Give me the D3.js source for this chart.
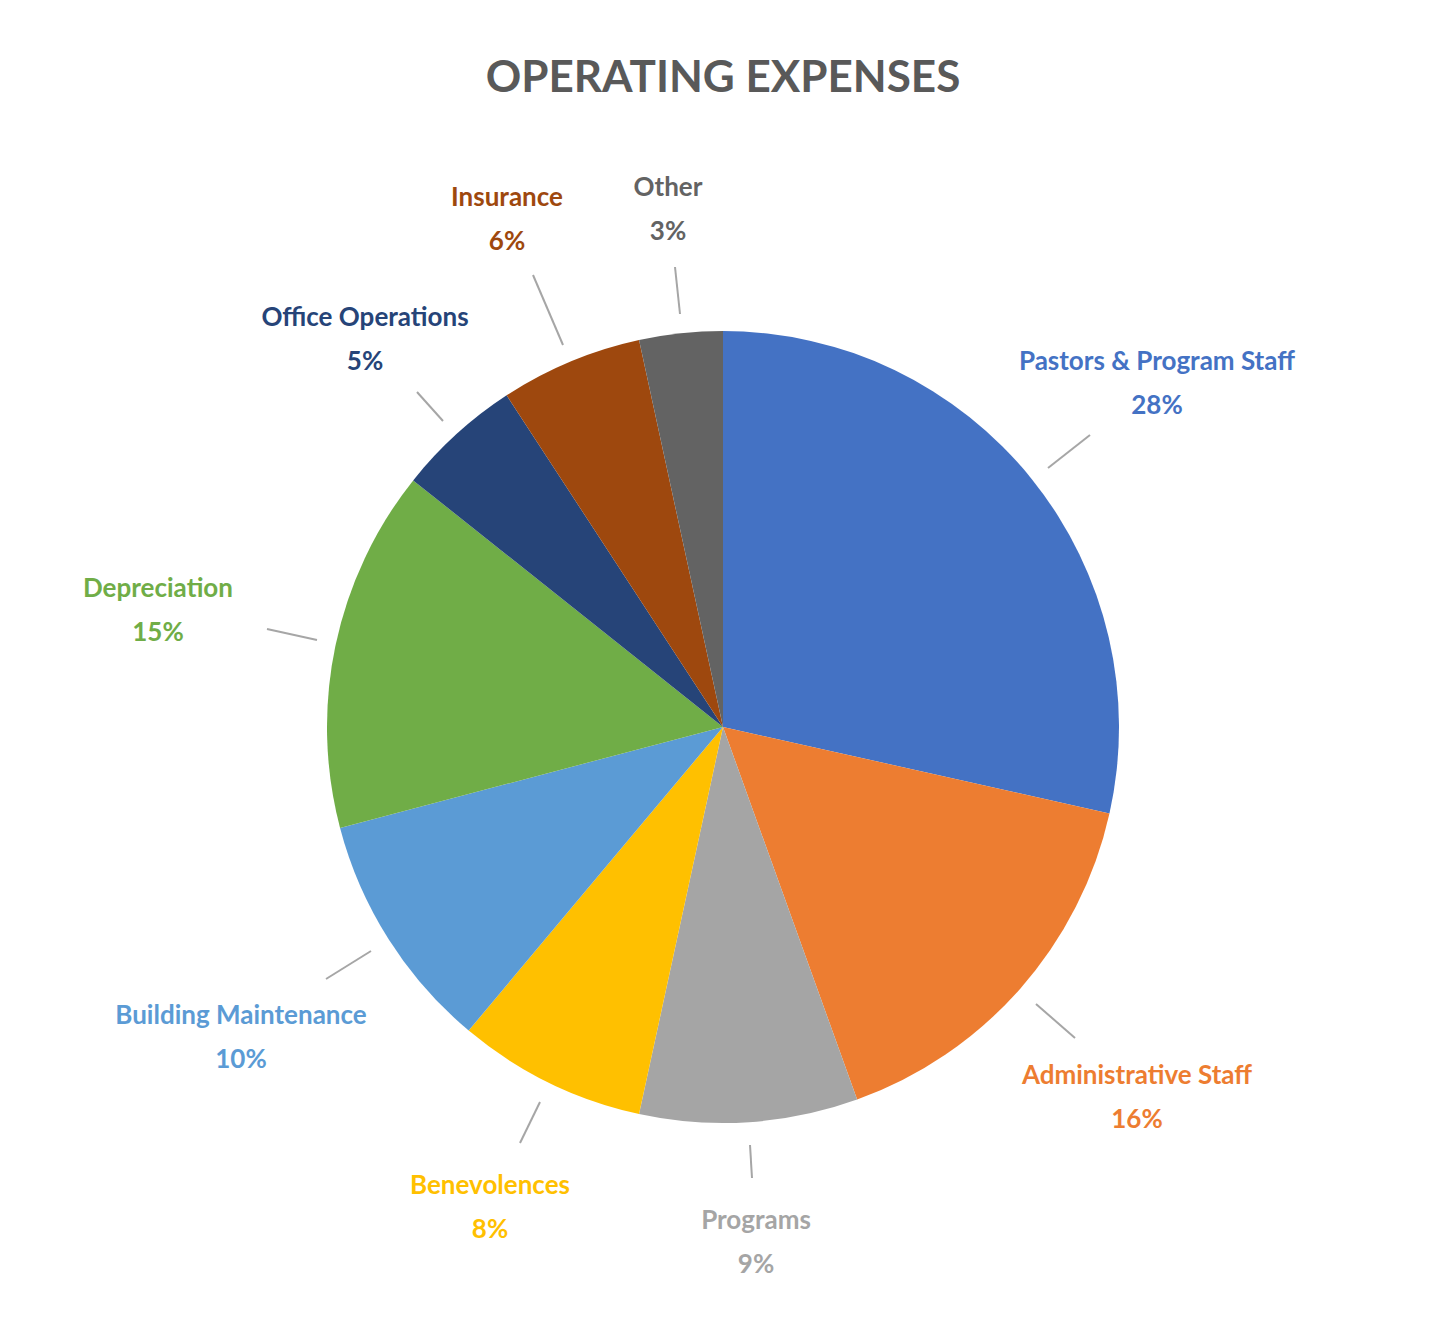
<!DOCTYPE html>
<html><head><meta charset="utf-8">
<script src="https://cdn.jsdelivr.net/npm/d3@7"></script>
<style>body{margin:0;background:#fff}svg{font-family:Lato,"Open Sans",sans-serif;font-weight:700}</style>
</head><body><svg id="c" width="1440" height="1344"></svg>
<script>
const categories = ["Pastors & Program Staff","Administrative Staff","Programs","Benevolences","Building Maintenance","Depreciation","Office Operations","Insurance","Other"];
const values = [28.5,16.0,8.9,7.7,9.8,14.8,5.1,5.8,3.4];
const colors = ["#4472C4","#ED7D31","#A5A5A5","#FFC000","#5B9BD5","#70AD47","#264478","#9E480E","#636363"];
// label layout: text center x, name baseline y, leader line endpoints
const labelPos = [[1157,370],[1137,1084],[756,1229],[490,1194],[241,1024],[158,597],[365,326],[507,206],[668,196]];
const leaders = [[1048,468,1090,435],[1036,1004,1075,1038],[750,1145,752,1178],[540,1102,520,1143],[371,951,326,979],[317,640,267,629],[443,421,417,392],[563,345,533,275],[680,314,675,267]];

const svg = d3.select("#c");
const cx = 723, cy = 727, r = 396;
svg.append("text").attr("x",723).attr("y",92).attr("text-anchor","middle")
  .attr("font-size",44).attr("fill","#595959").text("OPERATING EXPENSES");
const total = d3.sum(values);
const pie = d3.pie().sort(null).value(d=>d);
const arc = d3.arc().innerRadius(0).outerRadius(r);
const g = svg.append("g").attr("transform",`translate(${cx},${cy})`);
g.selectAll("path").data(pie(values)).join("path").attr("d",arc)
  .attr("fill",(d,i)=>colors[i]);
svg.selectAll("line.l").data(leaders).join("line")
  .attr("x1",d=>d[0]).attr("y1",d=>d[1]).attr("x2",d=>d[2]).attr("y2",d=>d[3])
  .attr("stroke","#A6A6A6").attr("stroke-width",2);
categories.forEach((c,i)=>{
  const t = svg.append("text").attr("text-anchor","middle").attr("font-size",26).attr("fill",colors[i]);
  t.append("tspan").attr("x",labelPos[i][0]).attr("y",labelPos[i][1]).text(c);
  t.append("tspan").attr("x",labelPos[i][0]).attr("y",labelPos[i][1]+44).text(Math.round(values[i]/total*100)+"%");
});
</script></body></html>
